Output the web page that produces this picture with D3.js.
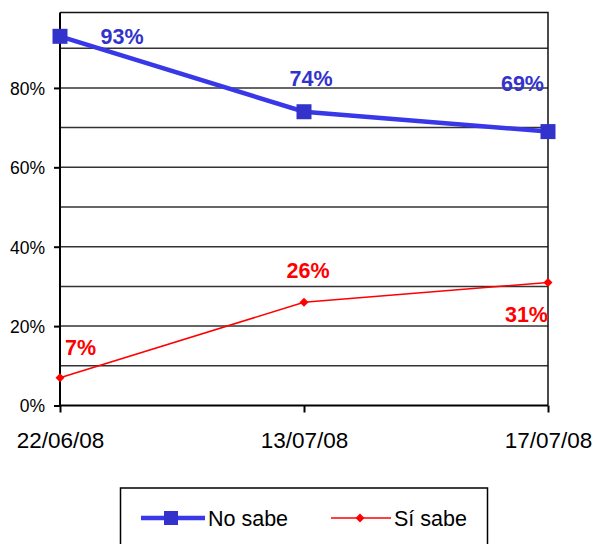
<!DOCTYPE html>
<html lang="es">
<head>
<meta charset="UTF-8" />
<script src="https://d3js.org/d3.v7.min.js"></script>
<title>No sabe / Sí sabe</title>
<style>
  body { margin: 0; background: #fff; }
  text { font-family: "Liberation Sans", Arial, sans-serif; }
</style>
</head>
<body>
<script>
// data
var dates = ["22/06/08", "13/07/08", "17/07/08"];
var noSabe = [0.93, 0.74, 0.69];
var siSabe = [0.07, 0.26, 0.31];
var seriesNames = ["No sabe", "Sí sabe"];
var yTicks = [0, 0.2, 0.4, 0.6, 0.8];
var gridValues = [0.1, 0.2, 0.3, 0.4, 0.5, 0.6, 0.7, 0.8, 0.9];

var width = 597, height = 544;
var plot = { left: 60, right: 548, top: 12.5, bottom: 405.5 };

var svg = d3.select("body").append("svg")
    .attr("width", width).attr("height", height);

var x = d3.scalePoint().domain(dates).range([plot.left, plot.right]);
var y = d3.scaleLinear().domain([0, 0.99]).range([plot.bottom, plot.top]);

// gridlines
svg.append("g").selectAll("line").data(gridValues).enter().append("line")
    .attr("x1", plot.left).attr("x2", plot.right)
    .attr("y1", d => y(d)).attr("y2", d => y(d))
    .attr("stroke", "#333").attr("stroke-width", 1.5);

// frame top + right
svg.append("path")
    .attr("d", `M${plot.left},${plot.top}H${plot.right}V${plot.bottom}`)
    .attr("fill", "none").attr("stroke", "#111").attr("stroke-width", 1.5);

// y axis
var yAxis = svg.append("g").attr("transform", `translate(${plot.left},0)`)
    .call(d3.axisLeft(y).tickValues(yTicks).tickFormat(d3.format(".0%")).tickSize(6).tickPadding(9));
yAxis.attr("font-size", null).attr("font-family", null);
yAxis.select(".domain").attr("stroke", "#000").attr("stroke-width", 2).attr("d", `M0,${plot.top}V${plot.bottom}`);
yAxis.selectAll(".tick line").attr("stroke", "#000").attr("stroke-width", 2);
yAxis.selectAll("text").style("font-size", "17.5px").attr("fill", "#000").attr("dy", "0.36em");

// x axis
var xAxis = svg.append("g").attr("transform", `translate(0,${plot.bottom})`)
    .call(d3.axisBottom(x).tickSize(7).tickPadding(0));
xAxis.attr("font-size", null).attr("font-family", null);
xAxis.select(".domain").attr("stroke", "#000").attr("stroke-width", 2).attr("d", `M${plot.left},0H${plot.right}`);
xAxis.selectAll(".tick line").attr("stroke", "#000").attr("stroke-width", 2);
xAxis.selectAll("text").style("font-size", "22.5px").attr("fill", "#000").attr("y", 42.5).attr("dy", 0);

var line = d3.line().x((d, i) => x(dates[i])).y(d => y(d));

// No sabe
svg.append("path").datum(noSabe).attr("d", line)
    .attr("fill", "none").attr("stroke", "#3838e8").attr("stroke-width", 4.5);
svg.append("g").selectAll("rect").data(noSabe).enter().append("rect")
    .attr("x", (d, i) => x(dates[i]) - 7.5).attr("y", d => y(d) - 7.5)
    .attr("width", 15).attr("height", 15).attr("fill", "#3333cc");

// Sí sabe
svg.append("path").datum(siSabe).attr("d", line)
    .attr("fill", "none").attr("stroke", "#ff0000").attr("stroke-width", 1.5);
var diamond = d3.symbol().type(d3.symbolSquare).size(40);
svg.append("g").selectAll("path").data(siSabe).enter().append("path")
    .attr("d", diamond)
    .attr("transform", (d, i) => `translate(${x(dates[i])},${y(d)}) rotate(45)`)
    .attr("fill", "#ff0000");

// data labels (offsets relative to each point)
var noOff = [[62, 8, "middle"], [7, -26, "middle"], [-4, -41, "end"]];
var siOff = [[5, -23, "start"], [4, -24, "middle"], [0, 40, "end"]];
function labels(vals, off, color) {
  svg.append("g").selectAll("text").data(vals).enter().append("text")
      .attr("x", (d, i) => x(dates[i]) + off[i][0])
      .attr("y", d => y(d))
      .attr("dy", (d, i) => off[i][1])
      .attr("text-anchor", (d, i) => off[i][2])
      .style("font-size", "21.5px").attr("font-weight", "bold").attr("fill", color)
      .text(d => d3.format(".0%")(d));
}
labels(noSabe, noOff, "#3333cc");
labels(siSabe, siOff, "#ff0000");

// legend
var lg = svg.append("g");
lg.append("rect").attr("x", 120.5).attr("y", 488).attr("width", 367).attr("height", 70)
    .attr("fill", "#fff").attr("stroke", "#000").attr("stroke-width", 1.5);
lg.append("line").attr("x1", 141).attr("x2", 205).attr("y1", 518).attr("y2", 518)
    .attr("stroke", "#3838e8").attr("stroke-width", 4.5);
lg.append("rect").attr("x", 164).attr("y", 511).attr("width", 14).attr("height", 14).attr("fill", "#3333cc");
lg.append("text").attr("x", 208).attr("y", 526).style("font-size", "21.5px").text(seriesNames[0]);
lg.append("line").attr("x1", 331).attr("x2", 391).attr("y1", 518).attr("y2", 518)
    .attr("stroke", "#ff0000").attr("stroke-width", 1.5);
lg.append("path").attr("d", diamond).attr("transform", "translate(360,518) rotate(45)").attr("fill", "#ff0000");
lg.append("text").attr("x", 394).attr("y", 526).style("font-size", "21.5px").text(seriesNames[1]);
</script>
</body>
</html>
